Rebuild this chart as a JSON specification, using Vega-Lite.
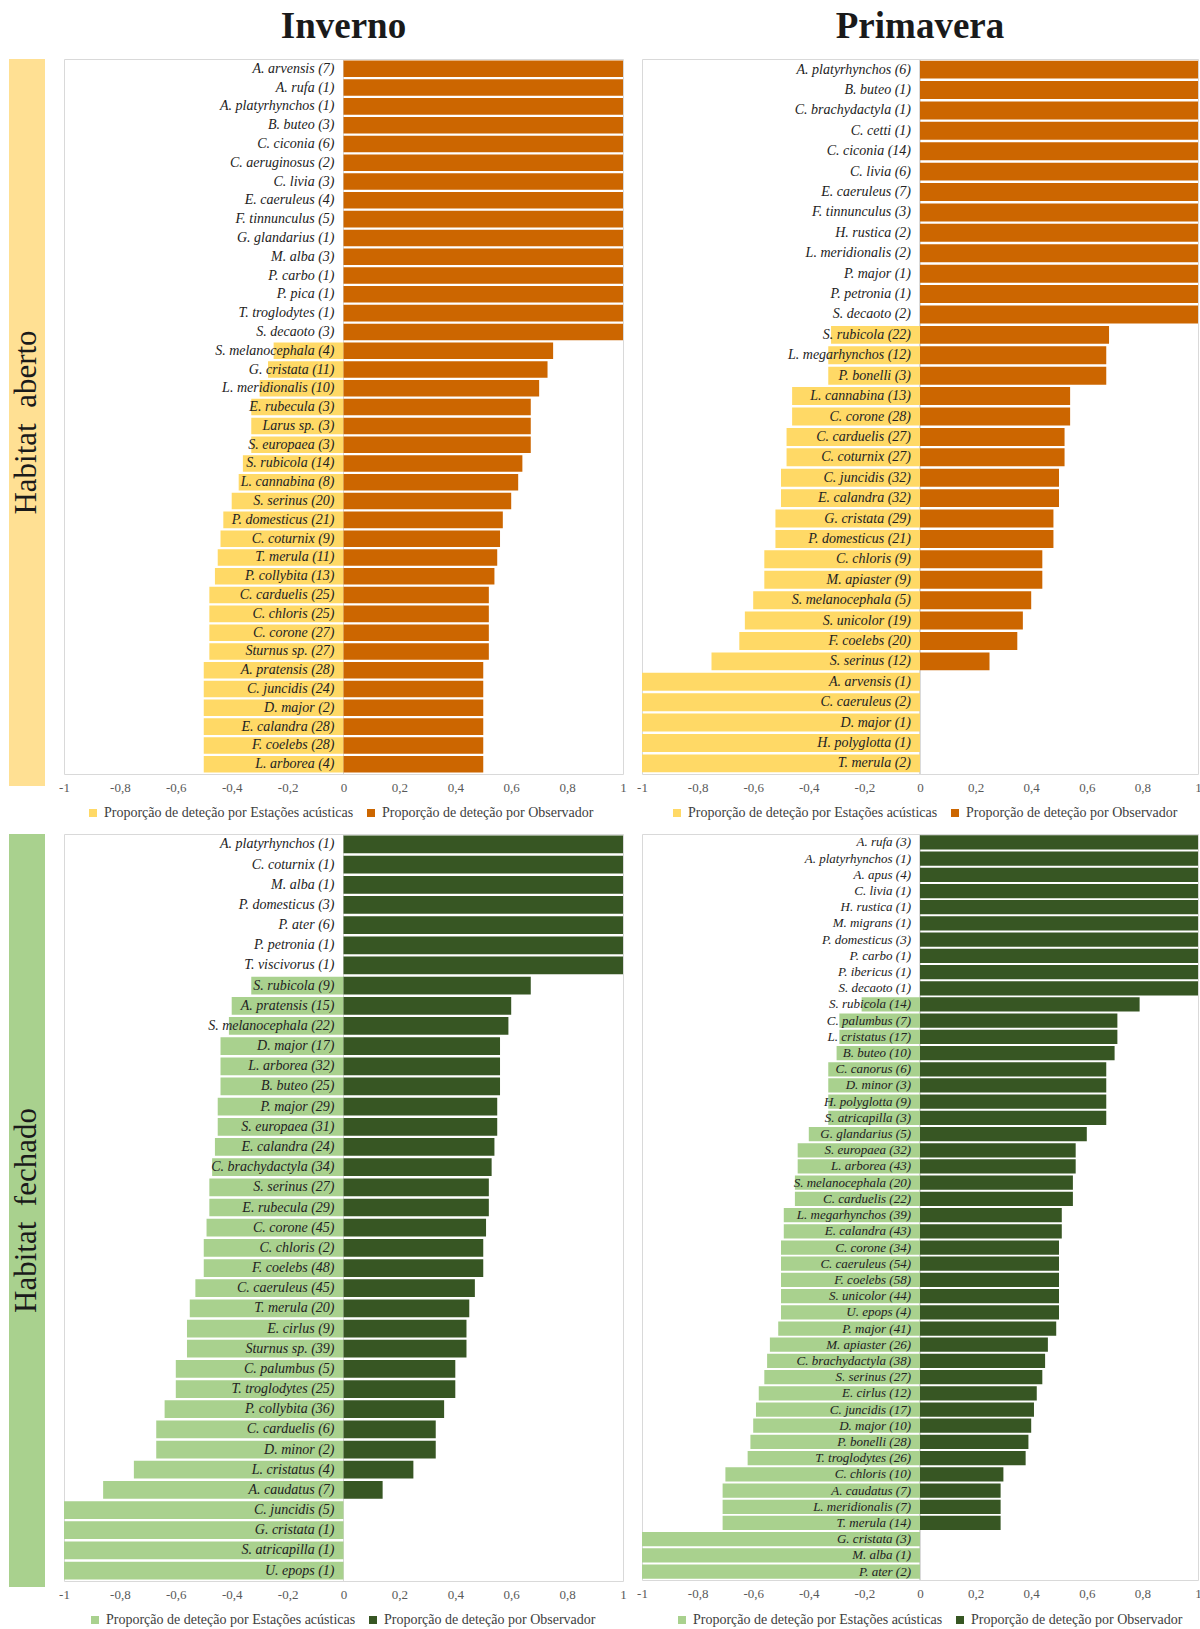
{
  "$schema": "https://vega.github.io/schema/vega-lite/v6.json",
  "padding": {"left": 9, "top": 7, "right": 0, "bottom": 0},
  "background": "white",
  "datasets": {
    "p1": [
      {"sp": "A. arvensis (7)", "a": 0, "o": 1},
      {"sp": "A. rufa (1)", "a": 0, "o": 1},
      {"sp": "A. platyrhynchos (1)", "a": 0, "o": 1},
      {"sp": "B. buteo (3)", "a": 0, "o": 1},
      {"sp": "C. ciconia (6)", "a": 0, "o": 1},
      {"sp": "C. aeruginosus (2)", "a": 0, "o": 1},
      {"sp": "C. livia (3)", "a": 0, "o": 1},
      {"sp": "E. caeruleus (4)", "a": 0, "o": 1},
      {"sp": "F. tinnunculus (5)", "a": 0, "o": 1},
      {"sp": "G. glandarius (1)", "a": 0, "o": 1},
      {"sp": "M. alba (3)", "a": 0, "o": 1},
      {"sp": "P. carbo (1)", "a": 0, "o": 1},
      {"sp": "P. pica (1)", "a": 0, "o": 1},
      {"sp": "T. troglodytes (1)", "a": 0, "o": 1},
      {"sp": "S. decaoto (3)", "a": 0, "o": 1},
      {"sp": "S. melanocephala (4)", "a": -0.25, "o": 0.75},
      {"sp": "G. cristata (11)", "a": -0.27, "o": 0.73},
      {"sp": "L. meridionalis (10)", "a": -0.3, "o": 0.7},
      {"sp": "E. rubecula (3)", "a": -0.33, "o": 0.67},
      {"sp": "Larus sp. (3)", "a": -0.33, "o": 0.67},
      {"sp": "S. europaea (3)", "a": -0.33, "o": 0.67},
      {"sp": "S. rubicola (14)", "a": -0.36, "o": 0.64},
      {"sp": "L. cannabina (8)", "a": -0.375, "o": 0.625},
      {"sp": "S. serinus (20)", "a": -0.4, "o": 0.6},
      {"sp": "P. domesticus (21)", "a": -0.43, "o": 0.57},
      {"sp": "C. coturnix (9)", "a": -0.44, "o": 0.56},
      {"sp": "T. merula (11)", "a": -0.45, "o": 0.55},
      {"sp": "P. collybita (13)", "a": -0.46, "o": 0.54},
      {"sp": "C. carduelis (25)", "a": -0.48, "o": 0.52},
      {"sp": "C. chloris (25)", "a": -0.48, "o": 0.52},
      {"sp": "C. corone (27)", "a": -0.48, "o": 0.52},
      {"sp": "Sturnus sp. (27)", "a": -0.48, "o": 0.52},
      {"sp": "A. pratensis (28)", "a": -0.5, "o": 0.5},
      {"sp": "C. juncidis (24)", "a": -0.5, "o": 0.5},
      {"sp": "D. major (2)", "a": -0.5, "o": 0.5},
      {"sp": "E. calandra (28)", "a": -0.5, "o": 0.5},
      {"sp": "F. coelebs (28)", "a": -0.5, "o": 0.5},
      {"sp": "L. arborea (4)", "a": -0.5, "o": 0.5}
    ],
    "p2": [
      {"sp": "A. platyrhynchos (6)", "a": 0, "o": 1},
      {"sp": "B. buteo (1)", "a": 0, "o": 1},
      {"sp": "C. brachydactyla (1)", "a": 0, "o": 1},
      {"sp": "C. cetti (1)", "a": 0, "o": 1},
      {"sp": "C. ciconia (14)", "a": 0, "o": 1},
      {"sp": "C. livia (6)", "a": 0, "o": 1},
      {"sp": "E. caeruleus (7)", "a": 0, "o": 1},
      {"sp": "F. tinnunculus (3)", "a": 0, "o": 1},
      {"sp": "H. rustica (2)", "a": 0, "o": 1},
      {"sp": "L. meridionalis (2)", "a": 0, "o": 1},
      {"sp": "P. major (1)", "a": 0, "o": 1},
      {"sp": "P. petronia (1)", "a": 0, "o": 1},
      {"sp": "S. decaoto (2)", "a": 0, "o": 1},
      {"sp": "S. rubicola (22)", "a": -0.32, "o": 0.68},
      {"sp": "L. megarhynchos (12)", "a": -0.33, "o": 0.67},
      {"sp": "P. bonelli (3)", "a": -0.33, "o": 0.67},
      {"sp": "L. cannabina (13)", "a": -0.46, "o": 0.54},
      {"sp": "C. corone (28)", "a": -0.46, "o": 0.54},
      {"sp": "C. carduelis (27)", "a": -0.48, "o": 0.52},
      {"sp": "C. coturnix (27)", "a": -0.48, "o": 0.52},
      {"sp": "C. juncidis (32)", "a": -0.5, "o": 0.5},
      {"sp": "E. calandra (32)", "a": -0.5, "o": 0.5},
      {"sp": "G. cristata (29)", "a": -0.52, "o": 0.48},
      {"sp": "P. domesticus (21)", "a": -0.52, "o": 0.48},
      {"sp": "C. chloris (9)", "a": -0.56, "o": 0.44},
      {"sp": "M. apiaster (9)", "a": -0.56, "o": 0.44},
      {"sp": "S. melanocephala (5)", "a": -0.6, "o": 0.4},
      {"sp": "S. unicolor (19)", "a": -0.63, "o": 0.37},
      {"sp": "F. coelebs (20)", "a": -0.65, "o": 0.35},
      {"sp": "S. serinus (12)", "a": -0.75, "o": 0.25},
      {"sp": "A. arvensis (1)", "a": -1, "o": 0},
      {"sp": "C. caeruleus (2)", "a": -1, "o": 0},
      {"sp": "D. major (1)", "a": -1, "o": 0},
      {"sp": "H. polyglotta (1)", "a": -1, "o": 0},
      {"sp": "T. merula (2)", "a": -1, "o": 0}
    ],
    "p3": [
      {"sp": "A. platyrhynchos (1)", "a": 0, "o": 1},
      {"sp": "C. coturnix (1)", "a": 0, "o": 1},
      {"sp": "M. alba (1)", "a": 0, "o": 1},
      {"sp": "P. domesticus (3)", "a": 0, "o": 1},
      {"sp": "P. ater (6)", "a": 0, "o": 1},
      {"sp": "P. petronia (1)", "a": 0, "o": 1},
      {"sp": "T. viscivorus (1)", "a": 0, "o": 1},
      {"sp": "S. rubicola (9)", "a": -0.33, "o": 0.67},
      {"sp": "A. pratensis (15)", "a": -0.4, "o": 0.6},
      {"sp": "S. melanocephala (22)", "a": -0.41, "o": 0.59},
      {"sp": "D. major (17)", "a": -0.44, "o": 0.56},
      {"sp": "L. arborea (32)", "a": -0.44, "o": 0.56},
      {"sp": "B. buteo (25)", "a": -0.44, "o": 0.56},
      {"sp": "P. major (29)", "a": -0.45, "o": 0.55},
      {"sp": "S. europaea (31)", "a": -0.45, "o": 0.55},
      {"sp": "E. calandra (24)", "a": -0.46, "o": 0.54},
      {"sp": "C. brachydactyla (34)", "a": -0.47, "o": 0.53},
      {"sp": "S. serinus (27)", "a": -0.48, "o": 0.52},
      {"sp": "E. rubecula (29)", "a": -0.48, "o": 0.52},
      {"sp": "C. corone (45)", "a": -0.49, "o": 0.51},
      {"sp": "C. chloris (2)", "a": -0.5, "o": 0.5},
      {"sp": "F. coelebs (48)", "a": -0.5, "o": 0.5},
      {"sp": "C. caeruleus (45)", "a": -0.53, "o": 0.47},
      {"sp": "T. merula (20)", "a": -0.55, "o": 0.45},
      {"sp": "E. cirlus (9)", "a": -0.56, "o": 0.44},
      {"sp": "Sturnus sp. (39)", "a": -0.56, "o": 0.44},
      {"sp": "C. palumbus (5)", "a": -0.6, "o": 0.4},
      {"sp": "T. troglodytes (25)", "a": -0.6, "o": 0.4},
      {"sp": "P. collybita (36)", "a": -0.64, "o": 0.36},
      {"sp": "C. carduelis (6)", "a": -0.67, "o": 0.33},
      {"sp": "D. minor (2)", "a": -0.67, "o": 0.33},
      {"sp": "L. cristatus (4)", "a": -0.75, "o": 0.25},
      {"sp": "A. caudatus (7)", "a": -0.86, "o": 0.14},
      {"sp": "C. juncidis (5)", "a": -1, "o": 0},
      {"sp": "G. cristata (1)", "a": -1, "o": 0},
      {"sp": "S. atricapilla (1)", "a": -1, "o": 0},
      {"sp": "U. epops (1)", "a": -1, "o": 0}
    ],
    "p4": [
      {"sp": "A. rufa (3)", "a": 0, "o": 1},
      {"sp": "A. platyrhynchos (1)", "a": 0, "o": 1},
      {"sp": "A. apus (4)", "a": 0, "o": 1},
      {"sp": "C. livia (1)", "a": 0, "o": 1},
      {"sp": "H. rustica (1)", "a": 0, "o": 1},
      {"sp": "M. migrans (1)", "a": 0, "o": 1},
      {"sp": "P. domesticus (3)", "a": 0, "o": 1},
      {"sp": "P. carbo (1)", "a": 0, "o": 1},
      {"sp": "P. ibericus (1)", "a": 0, "o": 1},
      {"sp": "S. decaoto (1)", "a": 0, "o": 1},
      {"sp": "S. rubicola (14)", "a": -0.21, "o": 0.79},
      {"sp": "C. palumbus (7)", "a": -0.29, "o": 0.71},
      {"sp": "L. cristatus (17)", "a": -0.29, "o": 0.71},
      {"sp": "B. buteo (10)", "a": -0.3, "o": 0.7},
      {"sp": "C. canorus (6)", "a": -0.33, "o": 0.67},
      {"sp": "D. minor (3)", "a": -0.33, "o": 0.67},
      {"sp": "H. polyglotta (9)", "a": -0.33, "o": 0.67},
      {"sp": "S. atricapilla (3)", "a": -0.33, "o": 0.67},
      {"sp": "G. glandarius (5)", "a": -0.4, "o": 0.6},
      {"sp": "S. europaea (32)", "a": -0.44, "o": 0.56},
      {"sp": "L. arborea (43)", "a": -0.44, "o": 0.56},
      {"sp": "S. melanocephala (20)", "a": -0.45, "o": 0.55},
      {"sp": "C. carduelis (22)", "a": -0.45, "o": 0.55},
      {"sp": "L. megarhynchos (39)", "a": -0.49, "o": 0.51},
      {"sp": "E. calandra (43)", "a": -0.49, "o": 0.51},
      {"sp": "C. corone (34)", "a": -0.5, "o": 0.5},
      {"sp": "C. caeruleus (54)", "a": -0.5, "o": 0.5},
      {"sp": "F. coelebs (58)", "a": -0.5, "o": 0.5},
      {"sp": "S. unicolor (44)", "a": -0.5, "o": 0.5},
      {"sp": "U. epops (4)", "a": -0.5, "o": 0.5},
      {"sp": "P. major (41)", "a": -0.51, "o": 0.49},
      {"sp": "M. apiaster (26)", "a": -0.54, "o": 0.46},
      {"sp": "C. brachydactyla (38)", "a": -0.55, "o": 0.45},
      {"sp": "S. serinus (27)", "a": -0.56, "o": 0.44},
      {"sp": "E. cirlus (12)", "a": -0.58, "o": 0.42},
      {"sp": "C. juncidis (17)", "a": -0.59, "o": 0.41},
      {"sp": "D. major (10)", "a": -0.6, "o": 0.4},
      {"sp": "P. bonelli (28)", "a": -0.61, "o": 0.39},
      {"sp": "T. troglodytes (26)", "a": -0.62, "o": 0.38},
      {"sp": "C. chloris (10)", "a": -0.7, "o": 0.3},
      {"sp": "A. caudatus (7)", "a": -0.71, "o": 0.29},
      {"sp": "L. meridionalis (7)", "a": -0.71, "o": 0.29},
      {"sp": "T. merula (14)", "a": -0.71, "o": 0.29},
      {"sp": "G. cristata (3)", "a": -1, "o": 0},
      {"sp": "M. alba (1)", "a": -1, "o": 0},
      {"sp": "P. ater (2)", "a": -1, "o": 0}
    ]
  },
  "columns": 3,
  "bounds": "flush",
  "align": "each",
  "spacing": {"row": 48, "column": 19},
  "resolve": {
    "scale": {"x": "independent", "y": "independent", "color": "independent"},
    "legend": {"color": "independent"},
    "axis": {"x": "independent", "y": "independent"}
  },
  "concat": [
    {
      "width": 36, "height": 727,
      "view": {"fill": "#FFE093", "stroke": null},
      "data": {"values": [{"t": "Habitat\u00a0 aberto"}]},
      "mark": {"type": "text", "angle": 270, "font": "Liberation Serif", "fontSize": 31, "color": "#1a1a1a"},
      "encoding": {"text": {"field": "t"}}
    },
    {
      "width": 559, "height": 715,
      "title": {"text": "Inverno"},
      "data": {"name": "p1"},
      "layer": [
        {"mark": {"type": "rule", "color": "#d9d9d9"}, "encoding": {"x": {"datum": 0}}},
        {
          "transform": [{"fold": ["a", "o"], "as": ["key", "v"]}],
          "mark": {"type": "bar"},
          "encoding": {
            "y": {"field": "sp", "type": "nominal", "sort": null, "axis": null, "scale": {"paddingInner": 0.12, "paddingOuter": 0.08}},
            "x": {"field": "v", "type": "quantitative", "stack": null, "scale": {"domain": [-1, 1], "nice": false}},
            "color": {"field": "key", "type": "nominal", "scale": {"domain": ["a", "o"], "range": ["#FFD966", "#CC6600"]},
              "legend": {"orient": "none", "legendX": 22, "legendY": 747, "labelExpr": "datum.value == 'a' ? 'Proporção de deteção por Estações acústicas' : 'Proporção de deteção por Observador'"}}
          }
        },
        {
          "mark": {"type": "text", "align": "right", "dx": -9, "font": "Liberation Serif", "fontStyle": "italic", "fontSize": 14, "color": "#222222"},
          "encoding": {"y": {"field": "sp", "type": "nominal", "sort": null}, "x": {"datum": 0}, "text": {"field": "sp"}}
        }
      ]
    },
    {
      "width": 556, "height": 715,
      "title": {"text": "Primavera"},
      "data": {"name": "p2"},
      "layer": [
        {"mark": {"type": "rule", "color": "#d9d9d9"}, "encoding": {"x": {"datum": 0}}},
        {
          "transform": [{"fold": ["a", "o"], "as": ["key", "v"]}],
          "mark": {"type": "bar"},
          "encoding": {
            "y": {"field": "sp", "type": "nominal", "sort": null, "axis": null, "scale": {"paddingInner": 0.12, "paddingOuter": 0.08}},
            "x": {"field": "v", "type": "quantitative", "stack": null, "scale": {"domain": [-1, 1], "nice": false}},
            "color": {"field": "key", "type": "nominal", "scale": {"domain": ["a", "o"], "range": ["#FFD966", "#CC6600"]},
              "legend": {"orient": "none", "legendX": 28, "legendY": 747, "labelExpr": "datum.value == 'a' ? 'Proporção de deteção por Estações acústicas' : 'Proporção de deteção por Observador'"}}
          }
        },
        {
          "mark": {"type": "text", "align": "right", "dx": -9, "font": "Liberation Serif", "fontStyle": "italic", "fontSize": 14, "color": "#222222"},
          "encoding": {"y": {"field": "sp", "type": "nominal", "sort": null}, "x": {"datum": 0}, "text": {"field": "sp"}}
        }
      ]
    },
    {
      "width": 36, "height": 753,
      "view": {"fill": "#A9D18E", "stroke": null},
      "data": {"values": [{"t": "Habitat\u00a0 fechado"}]},
      "mark": {"type": "text", "angle": 270, "font": "Liberation Serif", "fontSize": 31, "color": "#1a1a1a"},
      "encoding": {"text": {"field": "t"}}
    },
    {
      "width": 559, "height": 747,
      "data": {"name": "p3"},
      "layer": [
        {"mark": {"type": "rule", "color": "#d9d9d9"}, "encoding": {"x": {"datum": 0}}},
        {
          "transform": [{"fold": ["a", "o"], "as": ["key", "v"]}],
          "mark": {"type": "bar"},
          "encoding": {
            "y": {"field": "sp", "type": "nominal", "sort": null, "axis": null, "scale": {"paddingInner": 0.12, "paddingOuter": 0.08}},
            "x": {"field": "v", "type": "quantitative", "stack": null, "scale": {"domain": [-1, 1], "nice": false}},
            "color": {"field": "key", "type": "nominal", "scale": {"domain": ["a", "o"], "range": ["#A9D18E", "#375623"]},
              "legend": {"orient": "none", "legendX": 24, "legendY": 779, "labelExpr": "datum.value == 'a' ? 'Proporção de deteção por Estações acústicas' : 'Proporção de deteção por Observador'"}}
          }
        },
        {
          "mark": {"type": "text", "align": "right", "dx": -9, "font": "Liberation Serif", "fontStyle": "italic", "fontSize": 14, "color": "#222222"},
          "encoding": {"y": {"field": "sp", "type": "nominal", "sort": null}, "x": {"datum": 0}, "text": {"field": "sp"}}
        }
      ]
    },
    {
      "width": 556, "height": 746,
      "data": {"name": "p4"},
      "layer": [
        {"mark": {"type": "rule", "color": "#d9d9d9"}, "encoding": {"x": {"datum": 0}}},
        {
          "transform": [{"fold": ["a", "o"], "as": ["key", "v"]}],
          "mark": {"type": "bar"},
          "encoding": {
            "y": {"field": "sp", "type": "nominal", "sort": null, "axis": null, "scale": {"paddingInner": 0.12, "paddingOuter": 0.08}},
            "x": {"field": "v", "type": "quantitative", "stack": null, "scale": {"domain": [-1, 1], "nice": false}},
            "color": {"field": "key", "type": "nominal", "scale": {"domain": ["a", "o"], "range": ["#A9D18E", "#375623"]},
              "legend": {"orient": "none", "legendX": 33, "legendY": 779, "labelExpr": "datum.value == 'a' ? 'Proporção de deteção por Estações acústicas' : 'Proporção de deteção por Observador'"}}
          }
        },
        {
          "mark": {"type": "text", "align": "right", "dx": -9, "font": "Liberation Serif", "fontStyle": "italic", "fontSize": 13, "color": "#222222"},
          "encoding": {"y": {"field": "sp", "type": "nominal", "sort": null}, "x": {"datum": 0}, "text": {"field": "sp"}}
        }
      ]
    }
  ],
  "config": {
    "view": {"stroke": "#d9d9d9", "strokeWidth": 1},
    "title": {"font": "Liberation Serif", "fontSize": 37, "fontWeight": "bold", "color": "#1a1a1a", "anchor": "middle", "frame": "group", "offset": 13, "baseline": "alphabetic"},
    "axisX": {
      "domain": false, "ticks": false, "grid": false, "title": null,
      "labelFont": "Liberation Serif", "labelFontSize": 13, "labelColor": "#595959", "labelPadding": 7,
      "labelFlush": false,
      "values": [-1, -0.8, -0.6, -0.4, -0.2, 0, 0.2, 0.4, 0.6, 0.8, 1],
      "labelExpr": "replace(toString(datum.value), '.', ',')"
    },
    "legend": {
      "direction": "horizontal", "title": null,
      "symbolType": "square", "symbolSize": 64, "symbolStrokeWidth": 0,
      "labelFont": "Liberation Serif", "labelFontSize": 14, "labelColor": "#404040", "labelLimit": 400,
      "columnPadding": 10
    }
  }
}
